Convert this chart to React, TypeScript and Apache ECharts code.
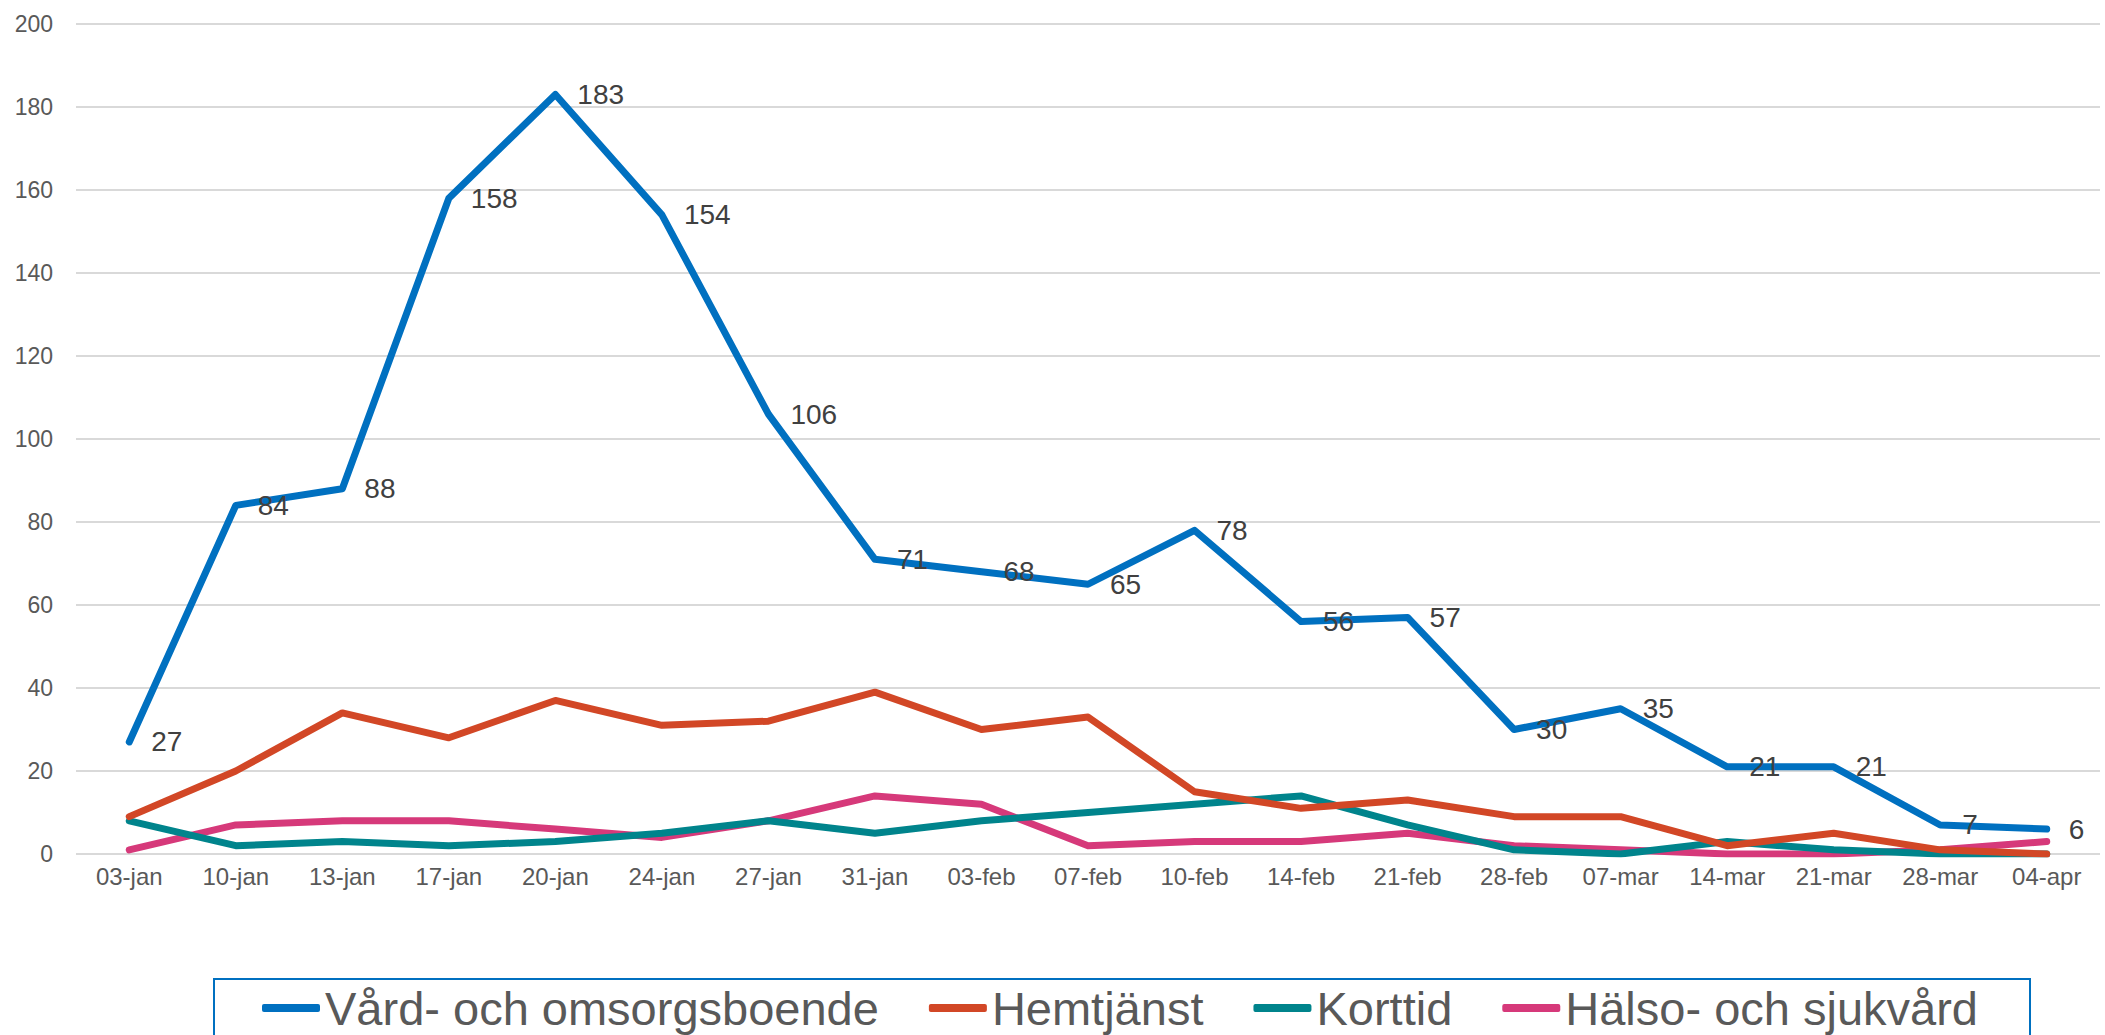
import React, { useEffect, useRef } from "react";
import * as echarts from "echarts";

const categories = [
  "03-jan", "10-jan", "13-jan", "17-jan", "20-jan", "24-jan", "27-jan", "31-jan",
  "03-feb", "07-feb", "10-feb", "14-feb", "21-feb", "28-feb", "07-mar", "14-mar",
  "21-mar", "28-mar", "04-apr",
];

const seriesNames = ["Vård- och omsorgsboende", "Hemtjänst", "Korttid", "Hälso- och sjukvård"];

const vardOmsorg = [27, 84, 88, 158, 183, 154, 106, 71, 68, 65, 78, 56, 57, 30, 35, 21, 21, 7, 6];
const hemtjanst = [9, 20, 34, 28, 37, 31, 32, 39, 30, 33, 15, 11, 13, 9, 9, 2, 5, 1, 0];
const korttid = [8, 2, 3, 2, 3, 5, 8, 5, 8, 10, 12, 14, 7, 1, 0, 3, 1, 0, 0];
const halsoSjukvard = [1, 7, 8, 8, 6, 4, 8, 14, 12, 2, 3, 3, 5, 2, 1, 0, 0, 1, 3];

const colors = ["#0070C0", "#D24726", "#00848C", "#D6397A"];

const FONT = "'Liberation Sans', Arial, sans-serif";

export default function App() {
  const ref = useRef<HTMLDivElement>(null);

  useEffect(() => {
    document.body.style.margin = "0";
    const chart = echarts.init(ref.current!, null, { renderer: "svg" });
    const values = [vardOmsorg, hemtjanst, korttid, halsoSjukvard];
    chart.setOption({
      animation: false,
      backgroundColor: "#ffffff",
      textStyle: { fontFamily: FONT },
      grid: { left: 76, right: 5, top: 24, bottom: 181, containLabel: false },
      xAxis: {
        type: "category",
        data: categories,
        boundaryGap: true,
        axisLine: { show: false },
        axisTick: { show: false },
        axisLabel: { color: "#595959", fontSize: 24, margin: 10, fontFamily: FONT, interval: 0 },
      },
      yAxis: {
        type: "value",
        min: 0,
        max: 200,
        interval: 20,
        axisLine: { show: false },
        axisTick: { show: false },
        axisLabel: { color: "#595959", fontSize: 23, margin: 23, fontFamily: FONT },
        splitLine: { lineStyle: { color: "#D9D9D9", width: 2 } },
      },
      legend: {
        left: 262,
        top: 983,
        padding: 0,
        itemGap: 50,
        itemWidth: 58,
        itemHeight: 8,
        icon: "roundRect",
        textStyle: { color: "#595959", fontSize: 47, fontFamily: FONT, lineHeight: 50, padding: [0, 0, 0, 0] },
        data: seriesNames,
      },
      graphic: [
        {
          type: "rect",
          shape: { x: 214, y: 979, width: 1816, height: 120 },
          style: { fill: "none", stroke: "#0070C0", lineWidth: 2 },
          silent: true,
          z: -1,
        },
      ],
      series: seriesNames.map((name, i) => ({
        name,
        type: "line",
        data: values[i],
        symbol: "circle",
        symbolSize: 2,
        showSymbol: true,
        color: colors[i],
        itemStyle: { color: colors[i] },
        lineStyle: { color: colors[i], width: 7, cap: "round", join: "round" },
        z: 10 - i,
        label:
          i === 0
            ? {
                show: true,
                position: "right",
                distance: 21,
                color: "#404040",
                fontSize: 28,
                fontFamily: FONT,
              }
            : { show: false },
        emphasis: { disabled: true },
      })),
    });
    return () => chart.dispose();
  }, []);

  return (
    <div
      ref={ref}
      style={{ position: "fixed", left: 0, top: 0, width: 2105, height: 1035 }}
    />
  );
}
